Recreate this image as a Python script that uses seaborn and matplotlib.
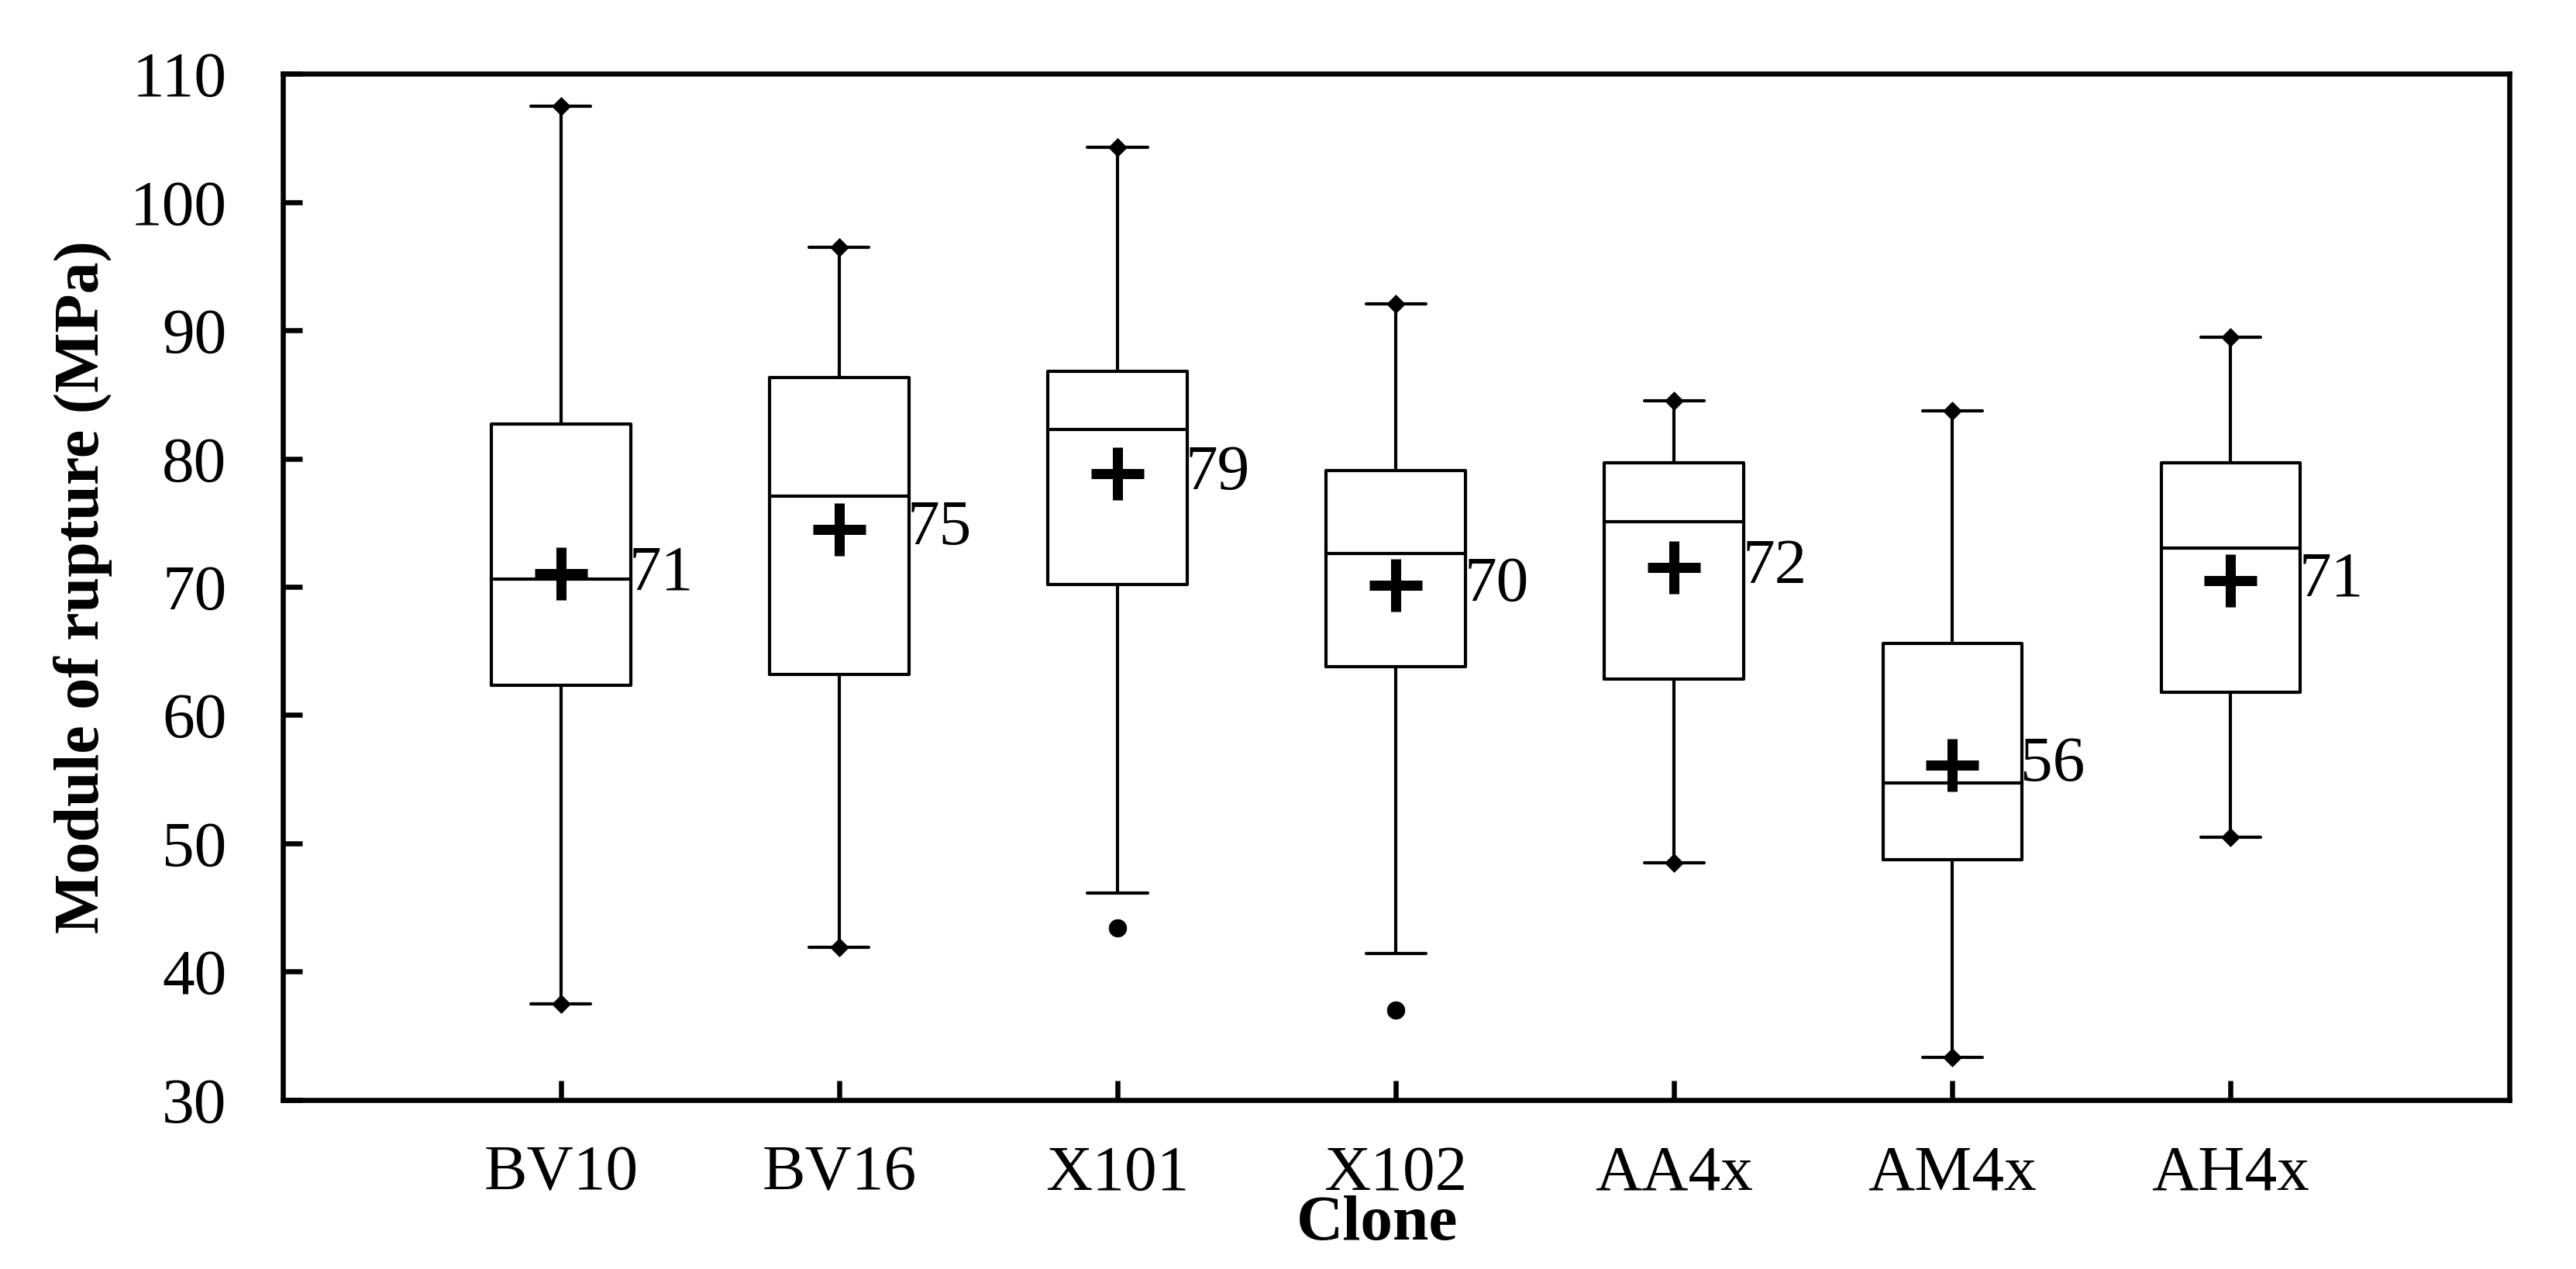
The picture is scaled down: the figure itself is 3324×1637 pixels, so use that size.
import numpy as np
import matplotlib
matplotlib.use("Agg")
import matplotlib.pyplot as plt
import seaborn as sns

# Box-plot statistics (MPa)
clones = ["BV10", "BV16", "X101", "X102", "AA4x", "AM4x", "AH4x"]
whisker_high = [107.5, 96.5, 104.3, 92.1, 84.5, 83.7, 89.5]
q3 = [82.7, 86.3, 86.8, 79.1, 79.7, 65.6, 79.7]
median = [70.6, 77.1, 82.3, 72.6, 75.1, 54.7, 73.0]
q1 = [62.3, 63.2, 70.2, 63.8, 62.8, 48.7, 61.8]
whisker_low = [37.5, 41.9, 46.1, 41.4, 48.5, 33.3, 50.5]
means = [71.0, 74.5, 78.8, 70.1, 71.5, 56.1, 70.5]
mean_labels = ["71", "75", "79", "70", "72", "56", "71"]
outlier_clone = ["X101", "X102"]
outlier_value = [43.4, 37.0]

sns.set_style("ticks")
plt.rcParams["font.family"] = ["Liberation Serif", "DejaVu Serif"]
plt.rcParams["text.color"] = "black"
plt.rcParams["axes.labelcolor"] = "black"
plt.rcParams["xtick.color"] = "black"
plt.rcParams["ytick.color"] = "black"

FS = 60  # font size used for the texts

positions = np.arange(len(clones))

stats = []
for i, name in enumerate(clones):
    stats.append({
        "label": name,
        "whislo": whisker_low[i],
        "q1": q1[i],
        "med": median[i],
        "q3": q3[i],
        "whishi": whisker_high[i],
        "fliers": [],
    })

fig, ax = plt.subplots(figsize=(33.24, 16.37), dpi=100)
fig.subplots_adjust(left=0.1097, right=0.974, top=0.9417, bottom=0.1334)

line = dict(color="black", linewidth=3.0)
ax.bxp(stats, positions=positions, widths=0.5, capwidths=0.215,
       showfliers=False, boxprops=line, whiskerprops=line,
       capprops=line, medianprops=line, manage_ticks=False)

# diamonds at whisker ends that are real data extremes
dx, dy = [], []
for i, name in enumerate(clones):
    dx.append(positions[i])
    dy.append(whisker_high[i])
    if name not in outlier_clone:
        dx.append(positions[i])
        dy.append(whisker_low[i])
sns.scatterplot(x=dx, y=dy, marker="D", s=160, color="black",
                edgecolor="black", linewidth=0, ax=ax, zorder=5)

# outliers
ox = [clones.index(c) for c in outlier_clone]
sns.scatterplot(x=ox, y=outlier_value, marker="o", s=270, color="black",
                edgecolor="black", linewidth=0.5, ax=ax, zorder=5)

# means
sns.scatterplot(x=positions, y=means, marker="+", s=2400, color="black",
                linewidth=9.4, ax=ax, zorder=6)
for i in range(len(clones)):
    ax.text(positions[i] + 0.245, means[i], mean_labels[i], fontsize=FS,
            ha="left", va="center")

ax.set_xlim(-1, 7)
ax.set_ylim(30, 110)
ax.set_yticks(range(30, 111, 10))
ax.set_xticks(positions, clones)

for sp in ax.spines.values():
    sp.set_visible(True)
    sp.set_linewidth(4.7)
    sp.set_color("black")

ax.tick_params(axis="both", direction="in", length=18, width=4.7,
               labelsize=FS)
ax.tick_params(axis="x", pad=42)
ax.tick_params(axis="y", pad=52)

ax.set_xlabel("Clone", fontsize=FS, fontweight="bold")
ax.set_ylabel("Module of rupture (MPa)", fontsize=59, fontweight="bold")
ax.xaxis.set_label_coords(0.4917, -0.093)
ax.yaxis.set_label_coords(-0.0763, 0.5)

plt.savefig("out.png", dpi=100)
